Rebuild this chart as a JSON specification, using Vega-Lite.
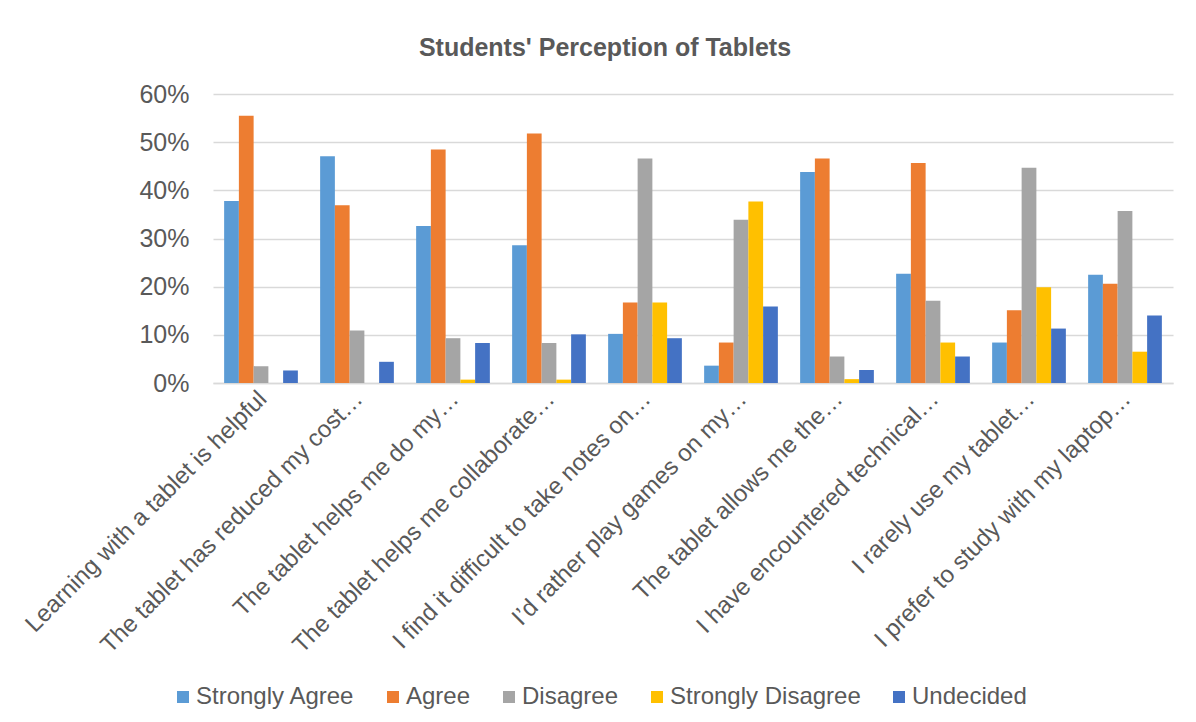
{
  "$schema": "https://vega.github.io/schema/vega-lite/v6.json",
  "autosize": {"type": "none"},
  "padding": {"left": 213, "top": 94, "right": 23, "bottom": 339},
  "width": 960,
  "height": 289,
  "background": "white",
  "title": {
    "text": "Students' Perception of Tablets",
    "font": "Liberation Sans",
    "fontSize": 25,
    "fontWeight": "bold",
    "color": "#595959",
    "anchor": "middle",
    "frame": "group",
    "dx": -88,
    "offset": 21
  },
  "data": {
    "values": [
      {"statement": "Learning with a tablet is helpful", "response": "Strongly Agree", "pct": 37.8},
      {"statement": "Learning with a tablet is helpful", "response": "Agree", "pct": 55.5},
      {"statement": "Learning with a tablet is helpful", "response": "Disagree", "pct": 3.5},
      {"statement": "Learning with a tablet is helpful", "response": "Strongly Disagree", "pct": 0},
      {"statement": "Learning with a tablet is helpful", "response": "Undecided", "pct": 2.6},
      {"statement": "The tablet has reduced my cost…", "response": "Strongly Agree", "pct": 47.1},
      {"statement": "The tablet has reduced my cost…", "response": "Agree", "pct": 36.9},
      {"statement": "The tablet has reduced my cost…", "response": "Disagree", "pct": 10.9},
      {"statement": "The tablet has reduced my cost…", "response": "Strongly Disagree", "pct": 0},
      {"statement": "The tablet has reduced my cost…", "response": "Undecided", "pct": 4.4},
      {"statement": "The tablet helps me do my…", "response": "Strongly Agree", "pct": 32.6},
      {"statement": "The tablet helps me do my…", "response": "Agree", "pct": 48.5},
      {"statement": "The tablet helps me do my…", "response": "Disagree", "pct": 9.3},
      {"statement": "The tablet helps me do my…", "response": "Strongly Disagree", "pct": 0.7},
      {"statement": "The tablet helps me do my…", "response": "Undecided", "pct": 8.3},
      {"statement": "The tablet helps me collaborate…", "response": "Strongly Agree", "pct": 28.6},
      {"statement": "The tablet helps me collaborate…", "response": "Agree", "pct": 51.8},
      {"statement": "The tablet helps me collaborate…", "response": "Disagree", "pct": 8.3},
      {"statement": "The tablet helps me collaborate…", "response": "Strongly Disagree", "pct": 0.7},
      {"statement": "The tablet helps me collaborate…", "response": "Undecided", "pct": 10.1},
      {"statement": "I find it difficult to take notes on…", "response": "Strongly Agree", "pct": 10.2},
      {"statement": "I find it difficult to take notes on…", "response": "Agree", "pct": 16.7},
      {"statement": "I find it difficult to take notes on…", "response": "Disagree", "pct": 46.6},
      {"statement": "I find it difficult to take notes on…", "response": "Strongly Disagree", "pct": 16.7},
      {"statement": "I find it difficult to take notes on…", "response": "Undecided", "pct": 9.3},
      {"statement": "I’d rather play games on my…", "response": "Strongly Agree", "pct": 3.6},
      {"statement": "I’d rather play games on my…", "response": "Agree", "pct": 8.4},
      {"statement": "I’d rather play games on my…", "response": "Disagree", "pct": 33.9},
      {"statement": "I’d rather play games on my…", "response": "Strongly Disagree", "pct": 37.7},
      {"statement": "I’d rather play games on my…", "response": "Undecided", "pct": 15.9},
      {"statement": "The tablet allows me the…", "response": "Strongly Agree", "pct": 43.8},
      {"statement": "The tablet allows me the…", "response": "Agree", "pct": 46.6},
      {"statement": "The tablet allows me the…", "response": "Disagree", "pct": 5.5},
      {"statement": "The tablet allows me the…", "response": "Strongly Disagree", "pct": 0.8},
      {"statement": "The tablet allows me the…", "response": "Undecided", "pct": 2.7},
      {"statement": "I have encountered technical…", "response": "Strongly Agree", "pct": 22.7},
      {"statement": "I have encountered technical…", "response": "Agree", "pct": 45.7},
      {"statement": "I have encountered technical…", "response": "Disagree", "pct": 17.1},
      {"statement": "I have encountered technical…", "response": "Strongly Disagree", "pct": 8.4},
      {"statement": "I have encountered technical…", "response": "Undecided", "pct": 5.5},
      {"statement": "I rarely use my tablet…", "response": "Strongly Agree", "pct": 8.4},
      {"statement": "I rarely use my tablet…", "response": "Agree", "pct": 15.1},
      {"statement": "I rarely use my tablet…", "response": "Disagree", "pct": 44.7},
      {"statement": "I rarely use my tablet…", "response": "Strongly Disagree", "pct": 19.9},
      {"statement": "I rarely use my tablet…", "response": "Undecided", "pct": 11.3},
      {"statement": "I prefer to study with my laptop…", "response": "Strongly Agree", "pct": 22.5},
      {"statement": "I prefer to study with my laptop…", "response": "Agree", "pct": 20.6},
      {"statement": "I prefer to study with my laptop…", "response": "Disagree", "pct": 35.7},
      {"statement": "I prefer to study with my laptop…", "response": "Strongly Disagree", "pct": 6.5},
      {"statement": "I prefer to study with my laptop…", "response": "Undecided", "pct": 14.0}
    ]
  },
  "mark": {"type": "bar"},
  "encoding": {
    "x": {
      "field": "statement",
      "type": "nominal",
      "sort": null,
      "scale": {"paddingInner": 0.232, "paddingOuter": 0.116},
      "axis": {
        "title": null,
        "labelAngle": -45,
        "labelAlign": "right",
        "labelBaseline": "middle",
        "labelPadding": 12,
        "labelOffset": 2,
        "labelFont": "Liberation Sans",
        "labelFontSize": 24,
        "labelColor": "#595959",
        "labelLimit": 0,
        "ticks": false,
        "domain": true,
        "domainColor": "#d9d9d9",
        "domainWidth": 1.5
      }
    },
    "xOffset": {
      "field": "response",
      "type": "nominal",
      "sort": ["Strongly Agree", "Agree", "Disagree", "Strongly Disagree", "Undecided"],
      "scale": {"paddingInner": 0, "paddingOuter": 0}
    },
    "y": {
      "field": "pct",
      "type": "quantitative",
      "scale": {"domain": [0, 60], "nice": false},
      "axis": {
        "title": null,
        "values": [0, 10, 20, 30, 40, 50, 60],
        "labelExpr": "datum.value + '%'",
        "labelFont": "Liberation Sans",
        "labelFontSize": 25,
        "labelColor": "#595959",
        "labelPadding": 24,
        "ticks": false,
        "domain": false,
        "grid": true,
        "gridColor": "#d9d9d9",
        "gridWidth": 1.5
      }
    },
    "color": {
      "field": "response",
      "type": "nominal",
      "sort": ["Strongly Agree", "Agree", "Disagree", "Strongly Disagree", "Undecided"],
      "scale": {
        "domain": ["Strongly Agree", "Agree", "Disagree", "Strongly Disagree", "Undecided"],
        "range": ["#5b9bd5", "#ed7d31", "#a5a5a5", "#ffc000", "#4472c4"]
      },
      "legend": {
        "title": null,
        "orient": "none",
        "direction": "horizontal",
        "legendX": -42,
        "legendY": 591,
        "symbolType": "square",
        "symbolSize": 144,
        "symbolStrokeWidth": 0,
        "symbolOpacity": 1,
        "labelFont": "Liberation Sans",
        "labelFontSize": 24,
        "labelColor": "#595959",
        "labelOffset": 1,
        "labelLimit": 0,
        "columnPadding": 26,
        "padding": 0
      }
    }
  },
  "config": {
    "view": {"stroke": null}
  }
}
